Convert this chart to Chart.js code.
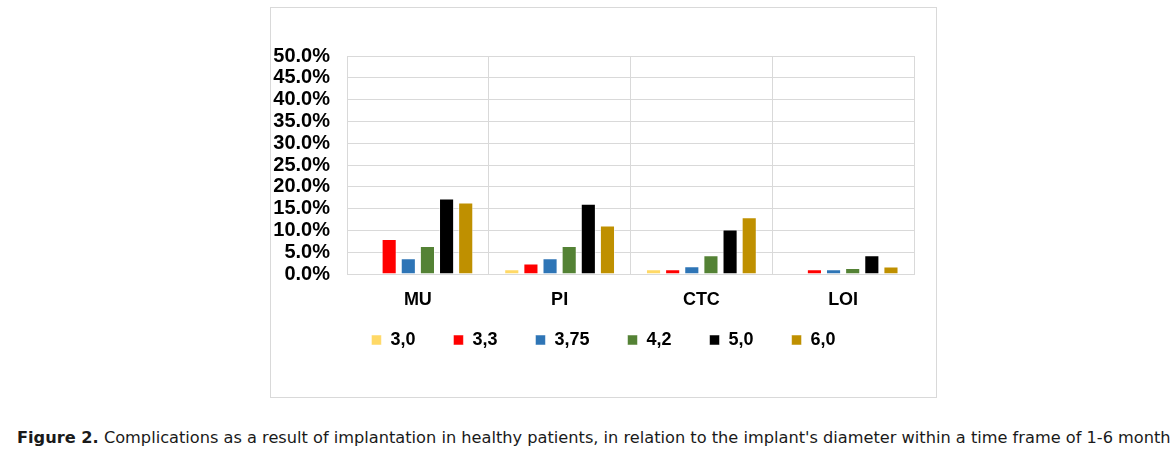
<!DOCTYPE html>
<html>
<head>
<meta charset="utf-8">
<script src="https://cdn.jsdelivr.net/npm/chart.js@4"></script>
<style>
    body { margin: 0; background: #fff; width: 1170px; height: 461px; position: relative; overflow: hidden; }
    #box { position: absolute; left: 270px; top: 7px; width: 667px; height: 391px; box-sizing: border-box; border: 1px solid #d9d9d9; }
    #caption { position: absolute; left: 17px; top: 428px; font-family: "DejaVu Sans", sans-serif; font-size: 16.2px; color: #1a1a1a; white-space: nowrap; }
</style>
</head>
<body>
<div id="box"><canvas id="chart" width="665" height="389"></canvas></div>
<div id="caption"><b>Figure 2.</b> Complications as a result of implantation in healthy patients, in relation to the implant's diameter within a time frame of 1-6 months</div>
<script>
document.addEventListener('DOMContentLoaded', () => {
    const categories = ['MU', 'PI', 'CTC', 'LOI'];
    const diameters = ['3,0', '3,3', '3,75', '4,2', '5,0', '6,0'];
    const d30 = [0, 1.1, 1.1, 0];
    const d33 = [8.0, 2.4, 1.1, 1.1];
    const d375 = [3.6, 3.6, 1.8, 1.1];
    const d42 = [6.4, 6.4, 4.3, 1.4];
    const d50 = [17.3, 16.1, 10.2, 4.3];
    const d60 = [16.4, 11.1, 13.0, 1.7];
    const yTicks = [0, 5, 10, 15, 20, 25, 30, 35, 40, 45, 50];

    const colors = ['#FFD966', '#FF0000', '#2E75B6', '#548235', '#000000', '#BF9000'];
    const series = [d30, d33, d375, d42, d50, d60];

    // nudge the legend into the same spot as the original figure
    const legendShift = {
        id: 'legendShift',
        afterLayout: (chart) => {
            chart.legend.left += 11;
            chart.legend.right += 11;
            chart.legend.top -= 21;
            chart.legend.bottom -= 21;
        }
    };

    const ctx = document.getElementById('chart').getContext('2d');
    new Chart(ctx, {
        type: 'bar',
        data: {
            labels: categories,
            datasets: series.map((values, i) => ({
                label: diameters[i],
                data: values,
                backgroundColor: colors[i],
                borderColor: 'rgba(255,255,255,0.5)',
                borderWidth: 1,
                categoryPercentage: 0.81,
                barPercentage: 0.79,
            }))
        },
        plugins: [legendShift],
        options: {
            responsive: false,
            animation: false,
            layout: { padding: { top: 48, right: 22, bottom: 17, left: 0 } },
            plugins: {
                tooltip: { enabled: false },
                legend: {
                    position: 'bottom',
                    labels: {
                        boxWidth: 10,
                        boxHeight: 10,
                        padding: 38,
                        color: '#000',
                        font: { family: 'Liberation Sans', size: 18, weight: 'bold' }
                    }
                }
            },
            scales: {
                x: {
                    grid: { color: '#d9d9d9', lineWidth: 1, drawTicks: false },
                    border: { color: '#d9d9d9' },
                    ticks: {
                        padding: 15,
                        color: '#000',
                        font: { family: 'Liberation Sans', size: 18, weight: 'bold' }
                    },
                    afterFit: (scale) => { scale.height = 40; }
                },
                y: {
                    min: 0,
                    max: 50,
                    afterBuildTicks: (scale) => { scale.ticks = yTicks.map(v => ({ value: v })); },
                    grid: { color: '#d9d9d9', lineWidth: 1, drawTicks: false },
                    border: { color: '#d9d9d9' },
                    ticks: {
                        autoSkip: false,
                        padding: 17,
                        color: '#000',
                        font: { family: 'Liberation Sans', size: 20, weight: 'bold' },
                        callback: (v) => v.toFixed(1) + '%'
                    },
                    afterFit: (scale) => { scale.width = 76; }
                }
            }
        }
    });
});
</script>
</body>
</html>
